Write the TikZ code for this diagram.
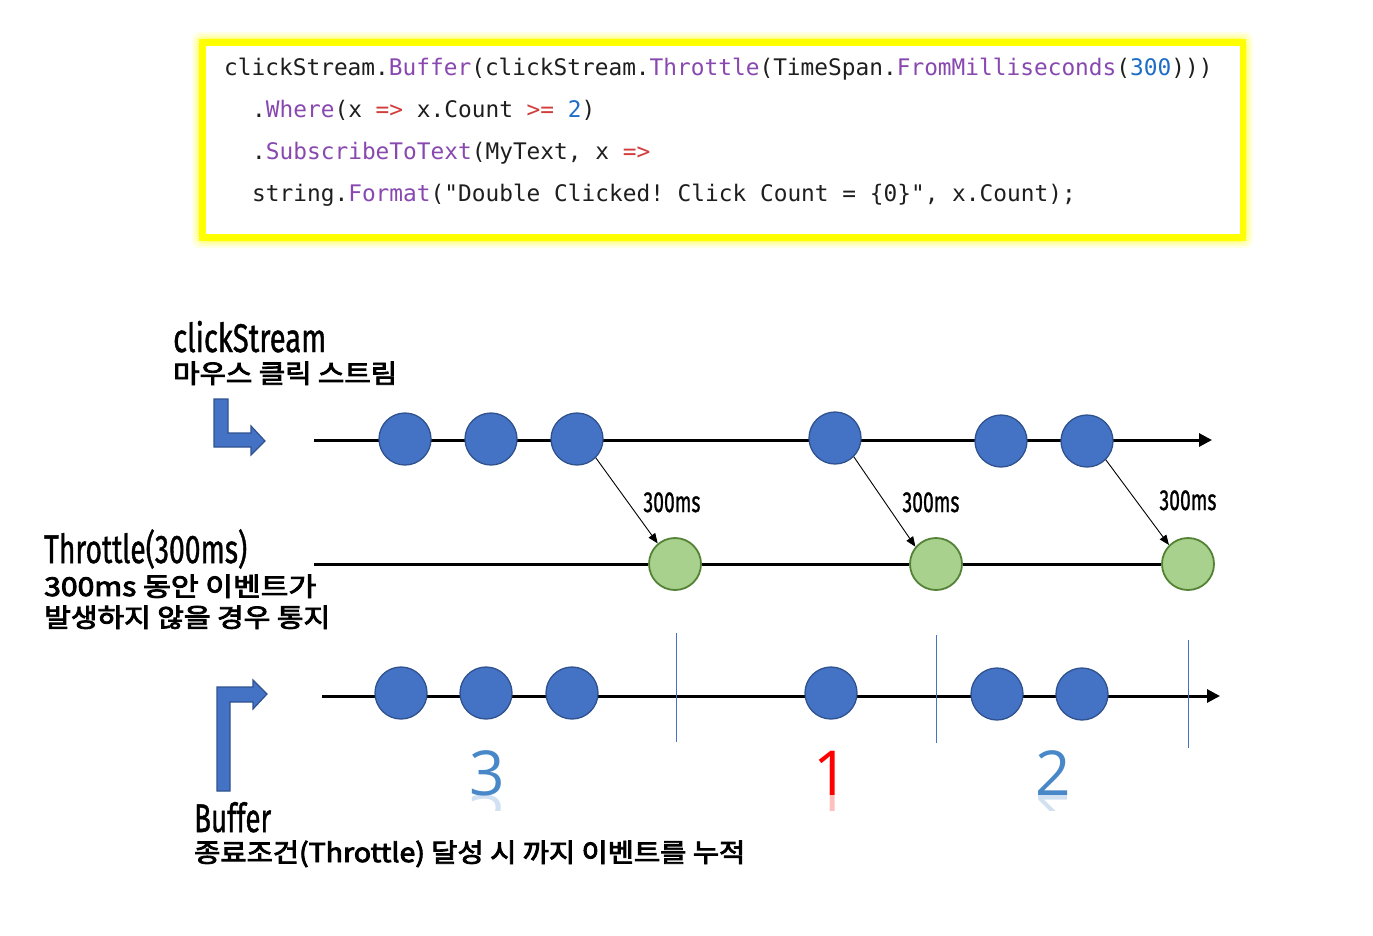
\documentclass[tikz,border=0pt]{standalone}
\usepackage{fontspec}
\usepackage{graphicx}
\usetikzlibrary{arrows.meta}
\newfontfamily\codefont{DejaVu Sans Mono}
\newfontfamily\labfont{Fira Sans}[FakeBold=1.2]
\newfontfamily\krfont{Noto Sans CJK KR}[FakeBold=3.2]
\newfontfamily\numfont{Open Sans}
\definecolor{cblue}{RGB}{68,114,196}
\definecolor{cblueline}{RGB}{47,82,143}
\definecolor{cgreen}{RGB}{169,209,142}
\definecolor{cgreenline}{RGB}{84,130,53}
\definecolor{mpurple}{RGB}{136,72,176}
\definecolor{kred}{RGB}{210,60,60}
\definecolor{nblue}{RGB}{30,110,200}
\definecolor{codeblack}{RGB}{30,30,30}
\definecolor{digitblue}{RGB}{72,136,200}
\definecolor{glow}{RGB}{255,255,0}
\newcommand{\krw}[2]{\resizebox{#1}{\height}{#2}}
\tikzset{
  codetxt/.style={anchor=base west, inner sep=0pt, text=codeblack, font=\codefont\fontsize{22.8}{26}\selectfont\frenchspacing},
  labtxt/.style={anchor=base west, inner sep=0pt, font=\labfont\fontsize{40}{44}\selectfont},
  mstxt/.style={anchor=base, inner sep=0pt, font=\labfont\fontsize{29}{32}\selectfont},
  krtxt/.style={anchor=base west, inner sep=0pt, font=\krfont\fontsize{26}{30}\selectfont},
  digit/.style={anchor=base, inner sep=0pt, font=\numfont\fontsize{62}{66}\selectfont},
  bdot/.style={circle, minimum size=52pt, inner sep=0pt, fill=cblue, draw=cblueline, line width=1.3pt},
  gdot/.style={circle, minimum size=52pt, inner sep=0pt, fill=cgreen, draw=cgreenline, line width=1.8pt},
  tline/.style={line width=3pt, black},
  tarrow/.style={line width=3pt, black, -{Triangle[length=13pt,width=13pt]}},
  delay/.style={line width=0.9pt, black, -{Triangle[length=10pt,width=8pt]}},
  sep/.style={cblue, line width=0.9pt},
  bent/.style={fill=cblue, draw=cblueline, line width=1.2pt, line join=miter}
}
\begin{document}
\begin{tikzpicture}[x=1pt,y=-1pt]
\useasboundingbox[fill=white] (0,0) rectangle (1373,935);

% code box with yellow glow
\foreach \i/\o in {0/0.10,2/0.12,4/0.16,6/0.25}
  \fill[glow, opacity=\o, rounded corners=8pt] (192+\i,32+\i) rectangle (1253-\i,248-\i);
\fill[glow] (199,39) rectangle (1246,241);
\fill[white] (206,46) rectangle (1240,234);

\node[codetxt] (c1) at (224,75) {clickStream.\textcolor{mpurple}{Buffer}(clickStream.\textcolor{mpurple}{Throttle}(TimeSpan.\textcolor{mpurple}{FromMilliseconds}(\textcolor{nblue}{300})))};
\node[codetxt] (c2) at (252,117) {.\textcolor{mpurple}{Where}(x \textcolor{kred}{=>} x.Count \textcolor{kred}{>=} \textcolor{nblue}{2})};
\node[codetxt] (c3) at (252,159) {.\textcolor{mpurple}{SubscribeToText}(MyText, x \textcolor{kred}{=>}};
\node[codetxt] (c4) at (252,201) {string.\textcolor{mpurple}{Format}("Double Clicked! Click Count = \{0\}", x.Count);};

% labels
\node[labtxt] (lcs) at (173,352) {\resizebox{153pt}{\height}{clickStream}};
\node[krtxt] (lcskr) at (173,383) {\krw{224pt}{마우스 클릭 스트림}};
\node[labtxt] (lth) at (44,563) {\resizebox{203pt}{\height}{Throttle(300ms)}};
\node[krtxt] (lthkr1) at (44,596) {\krw{272pt}{300ms 동안 이벤트가}};
\node[krtxt] (lthkr2) at (44,627) {\krw{286pt}{발생하지 않을 경우 통지}};
\node[labtxt] (lbf) at (194,832) {\resizebox{77pt}{\height}{Buffer}};
\node[krtxt] (lbfkr) at (194,862) {\krw{551pt}{종료조건(Throttle) 달성 시 까지 이벤트를 누적}};

% bent arrows
\filldraw[bent] (214,399) -- (228,399) -- (228,433) -- (251,433) -- (251,426) -- (265,441) -- (251,455) -- (251,447) -- (214,447) -- cycle;
\filldraw[bent] (217,791) -- (217,687) -- (253,687) -- (253,680) -- (267,694) -- (253,709) -- (253,702) -- (230,702) -- (230,791) -- cycle;

% timeline 1: clickStream
\coordinate (t1s) at (314,440);
\coordinate (t1e) at (1212,440);
\draw[tarrow] (t1s) -- (t1e);
\node[bdot] (a1) at (405,439) {};
\node[bdot] (a2) at (491,439) {};
\node[bdot] (a3) at (577,439) {};
\node[bdot] (a4) at (835,438) {};
\node[bdot] (a5) at (1001,441) {};
\node[bdot] (a6) at (1087,441) {};

% timeline 2: throttle
\coordinate (t2s) at (314,564);
\node[gdot] (g1) at (675,564) {};
\node[gdot] (g2) at (936,564) {};
\node[gdot] (g3) at (1188,564) {};
\draw[tline] (t2s) -- (g1.west);
\draw[tline] (g1.east) -- (g2.west);
\draw[tline] (g2.east) -- (g3.west);

\draw[delay] (a3.-45) -- (g1.130);
\draw[delay] (a4.-45) -- (g2.140);
\draw[delay] (a6.-45) -- (g3.135);
\node[mstxt] (m1) at (672,512) {\resizebox{57pt}{\height}{300ms}};
\node[mstxt] (m2) at (931,512) {\resizebox{57pt}{\height}{300ms}};
\node[mstxt] (m3) at (1188,510) {\resizebox{57pt}{\height}{300ms}};

% timeline 3: buffer
\coordinate (t3s) at (322,696);
\coordinate (t3e) at (1220,696);
\draw[tarrow] (t3s) -- (t3e);
\node[bdot] (b1) at (401,693) {};
\node[bdot] (b2) at (486,693) {};
\node[bdot] (b3) at (572,693) {};
\node[bdot] (b4) at (831,693) {};
\node[bdot] (b5) at (997,694) {};
\node[bdot] (b6) at (1082,694) {};

\coordinate (v1a) at (676,633); \coordinate (v1b) at (676,742);
\coordinate (v2a) at (936,635); \coordinate (v2b) at (936,743);
\coordinate (v3a) at (1188,640); \coordinate (v3b) at (1188,748);
\draw[sep] (v1a) -- (v1b);
\draw[sep] (v2a) -- (v2b);
\draw[sep] (v3a) -- (v3b);

% counts with reflections
\node[digit, text=digitblue] (n3) at (487,795) {3};
\node[digit, text=red] (n1) at (831,795) {1};
\node[digit, text=digitblue] (n2) at (1053,795) {2};
\begin{scope}
  \clip (440,795) rectangle (1100,810);
  \node[digit, text=digitblue, text opacity=0.25] (r3) at (487,795) {\scalebox{1}[-1]{3}};
  \node[digit, text=red, text opacity=0.25] (r1) at (831,795) {\scalebox{1}[-1]{1}};
  \node[digit, text=digitblue, text opacity=0.25] (r2) at (1053,795) {\scalebox{1}[-1]{2}};
\end{scope}
\end{tikzpicture}
\end{document}
